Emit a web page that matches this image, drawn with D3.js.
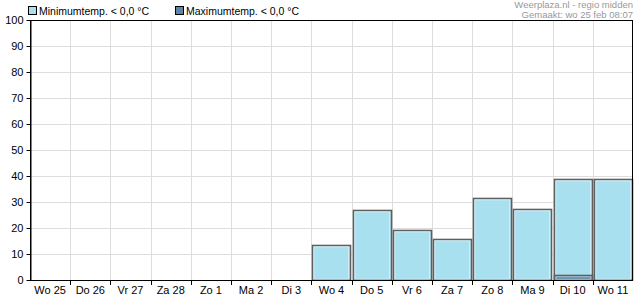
<!DOCTYPE html>
<html><head><meta charset="utf-8">
<script src="https://cdn.jsdelivr.net/npm/d3@7/dist/d3.min.js"></script>
<style>body{margin:0;background:#fff}svg{display:block;font-family:"Liberation Sans",Arial,sans-serif}</style>
</head><body><svg id="c" width="635" height="300"></svg>
<script>
const categories = ["Wo 25","Do 26","Vr 27","Za 28","Zo 1","Ma 2","Di 3","Wo 4","Do 5","Vr 6","Za 7","Zo 8","Ma 9","Di 10","Wo 11"];
const minTemp = [0,0,0,0,0,0,0,13.5,26.8,19.1,15.6,31.4,27.2,38.9,38.9];
const maxTemp = [0,0,0,0,0,0,0,0,0,0,0,0,0,1.9,0];
const yTicks = [0,10,20,30,40,50,60,70,80,90,100];
const seriesNames = ["Minimumtemp. < 0,0 °C","Maximumtemp. < 0,0 °C"];
const colors = ["#a8e0f0","#5b87a6"];

const svg = d3.select("#c");
const L=30,R=633,T=20,B=280;
const x = d3.scaleBand().domain(categories).range([L,R]);
const y = d3.scaleLinear().domain([0,100]).range([B,T]);

// grid
const g = svg.append("g");
g.selectAll(".hg").data(yTicks).join("line")
 .attr("x1",L).attr("x2",R).attr("y1",d=>y(d)+0.5).attr("y2",d=>y(d)+0.5)
 .attr("stroke","#dddddd");
const bounds = categories.map(c=>x(c)).slice(1);
g.selectAll(".vg").data(bounds).join("line")
 .attr("x1",d=>Math.round(d)+0.5).attr("x2",d=>Math.round(d)+0.5).attr("y1",T).attr("y2",B)
 .attr("stroke","#dddddd");

function drawBars(vals,color){
  const bw = x.bandwidth();
  const data = categories.map((c,i)=>({c,v:vals[i]})).filter(d=>d.v>0);
  const gg = svg.append("g");
  gg.selectAll("rect.o").data(data).join("rect")
   .attr("x",d=>Math.round(x(d.c))+1.5).attr("width",Math.round(bw)-2)
   .attr("y",d=>Math.round(y(d.v))+0.5).attr("height",d=>B-Math.round(y(d.v))-0.5)
   .attr("fill",color).attr("stroke","#5f5f5f").attr("stroke-width",1.6);
  gg.selectAll("rect.i").data(data).join("rect")
   .attr("x",d=>Math.round(x(d.c))+2.8).attr("width",Math.round(bw)-5)
   .attr("y",d=>Math.round(y(d.v))+1.8).attr("height",d=>Math.max(0,B-Math.round(y(d.v))-2.5))
   .attr("fill","none").attr("stroke","#ffffff").attr("stroke-opacity",0.55).attr("stroke-width",1);
}
drawBars(minTemp,colors[0]);
drawBars(maxTemp,colors[1]);

// frame
svg.append("rect").attr("x",L+0.5).attr("y",T+0.5).attr("width",R-L-1).attr("height",B-T)
 .attr("fill","none").attr("stroke","#000");

// y axis
const ya = svg.append("g").attr("transform",`translate(${L+0.5},0)`)
 .call(d3.axisLeft(y).tickValues(yTicks).tickSize(4).tickSizeOuter(0));
ya.select(".domain").attr("stroke","#000");
ya.selectAll("text").attr("font-size",11).attr("fill","#000").attr("font-family","Liberation Sans, Arial, sans-serif");
ya.selectAll(".tick line").attr("stroke","#000");

// x axis
const xa = svg.append("g").attr("transform",`translate(0,${B+0.5})`)
 .call(d3.axisBottom(x).tickSize(0).tickSizeOuter(0));
xa.select(".domain").remove();
xa.selectAll("text").attr("font-size",11).attr("fill","#000").attr("dy","0.95em").attr("font-family","Liberation Sans, Arial, sans-serif");
svg.append("g").selectAll("line").data(bounds).join("line")
 .attr("x1",d=>Math.round(d)+0.5).attr("x2",d=>Math.round(d)+0.5).attr("y1",B).attr("y2",B+5).attr("stroke","#000");

// legend
const leg = svg.append("g");
const lx=[28,175];
seriesNames.forEach((s,i)=>{
  leg.append("rect").attr("x",lx[i]+0.5).attr("y",6.5).attr("width",8).attr("height",8)
   .attr("fill",colors[i]).attr("stroke","#000");
  leg.append("text").attr("x",lx[i]+11).attr("y",14.5).attr("font-size",10.5).attr("fill","#000").text(s);
});
svg.append("text").attr("x",633).attr("y",7.5).attr("text-anchor","end").attr("font-size",9.5).attr("fill","#999").text("Weerplaza.nl - regio midden");
svg.append("text").attr("x",633).attr("y",17.5).attr("text-anchor","end").attr("font-size",9.5).attr("fill","#999").text("Gemaakt: wo 25 feb 08:07");
</script></body></html>
